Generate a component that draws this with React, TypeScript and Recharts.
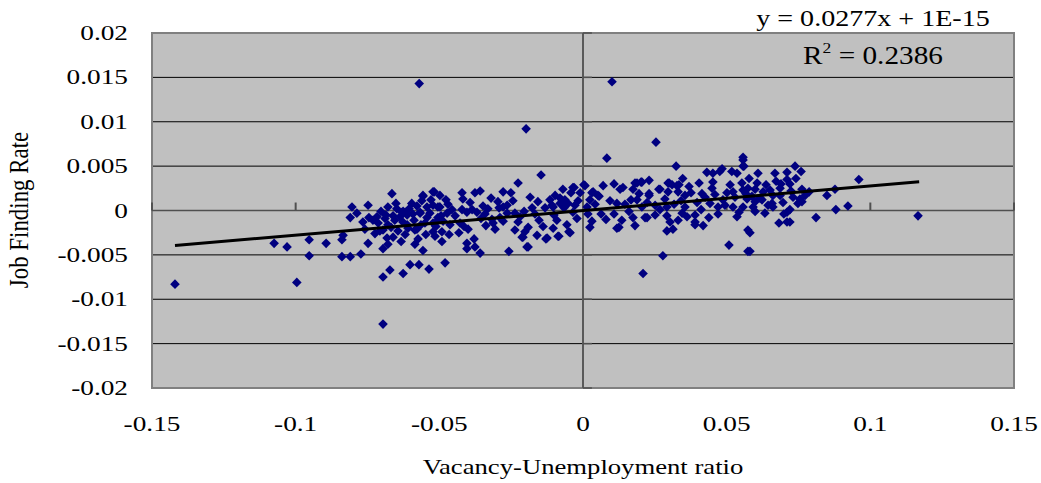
import { ScatterChart, Scatter, XAxis, YAxis, CartesianGrid, ReferenceLine, ReferenceArea } from 'recharts'

const xTicks = [-0.15, -0.1, -0.05, 0, 0.05, 0.1, 0.15]
const xLabels = ['-0.15', '-0.1', '-0.05', '0', '0.05', '0.1', '0.15']
const yTicks = [-0.02, -0.015, -0.01, -0.005, 0, 0.005, 0.01, 0.015, 0.02]
const yLabels = ['-0.02', '-0.015', '-0.01', '-0.005', '0', '0.005', '0.01', '0.015', '0.02']

// trendline as printed on the chart
const slope = 0.0277
const intercept = 1e-15
const fitFrom = -0.142
const fitTo = 0.117

// [vacancy-unemployment ratio, job finding rate]
const outliers: [number, number][] = [
  [-0.142, -0.0083], [-0.057, 0.0143], [-0.0198, 0.0092], [0.0101, 0.0145], [0.0083, 0.0059],
  [0.0254, 0.0077], [-0.0696, -0.0128], [-0.0996, -0.0081], [0.0209, -0.0071], [0.1166, -0.0006],
  [0.096, 0.0035], [-0.1075, -0.0037], [-0.103, -0.0041],
]

const leftCluster: [number, number][] = [
  [-0.0953, -0.0033], [-0.0953, -0.0051], [-0.0894, -0.0037], [-0.0839, -0.0052], [-0.081, -0.0052],
  [-0.0773, -0.0049], [-0.0839, -0.0033], [-0.0835, -0.0028], [-0.0804, 0.0004], [-0.0748, 0.0006],
  [-0.0787, -0.0003], [-0.081, -0.0008], [-0.0766, -0.0013], [-0.0748, -0.0037], [-0.0679, -0.0038],
  [-0.0696, -0.0043], [-0.0696, -0.0075], [-0.0672, -0.0067], [-0.0626, -0.0071], [-0.0602, -0.0061],
  [-0.0571, -0.0061], [-0.0536, -0.0066], [-0.0679, 0.0004], [-0.0717, -0.0007], [-0.0686, -0.0005],
  [-0.0661, -0.0006], [-0.063, -0.0002], [-0.0612, -0.0005], [-0.0592, -0.0004], [-0.0567, -0.0002],
  [-0.0543, 0.0004], [-0.0505, 0.0004], [-0.0707, -0.0023], [-0.0679, -0.0016], [-0.0661, -0.003],
  [-0.0644, -0.0023], [-0.0609, -0.002], [-0.0578, -0.0021], [-0.0574, -0.0032], [-0.0522, -0.0024],
  [-0.0522, -0.0014], [-0.0665, 0.0019], [-0.0557, 0.0016], [-0.0518, 0.0021], [-0.0713, -0.0014],
  [-0.0696, -0.0022], [-0.0626, -0.0001], [-0.0648, 0.0002], [-0.0596, 0.0008], [-0.0561, 0.0011],
  [-0.0533, -0.0003], [-0.0487, -0.0012], [-0.0463, -0.0016], [-0.0655, -0.0011], [-0.0627, -0.0013],
  [-0.0557, 0.0017], [-0.0522, 0.0021], [-0.0498, 0.0017], [-0.0619, -0.0002], [-0.0612, -0.0016],
  [-0.0585, -0.0022], [-0.0491, -0.0024], [-0.0491, -0.0035], [-0.0515, -0.0029], [-0.0543, -0.0008],
  [-0.0505, -0.0008], [-0.055, -0.0014], [-0.048, -0.0059], [-0.0522, 0.0006], [-0.0498, 0.0004],
  [-0.047, 0.0007], [-0.0473, -0.0003], [-0.0456, 0.0001], [-0.0445, -0.0006], [-0.0567, -0.0003],
  [-0.0731, -0.0011], [-0.0724, -0.0026], [-0.0703, -0.0001], [-0.0689, -0.0009], [-0.0668, -0.0019],
  [-0.0651, 0.0008], [-0.0637, -0.0007], [-0.0619, -0.0027], [-0.0605, 0.0002], [-0.0588, -0.0011],
  [-0.0578, 0.0005], [-0.0564, -0.0016], [-0.0547, -0.0027], [-0.0529, 0.0012], [-0.0512, -0.0018],
  [-0.0494, -0.0006], [-0.0477, 0.0012], [-0.0466, -0.0027], [-0.0585, -0.0038], [-0.0633, -0.0035],
  [-0.0759, -0.0021], [-0.0745, -0.0008], [-0.0682, -0.0031], [-0.0557, -0.0045], [-0.0508, -0.0012],
]

const centerCluster: [number, number][] = [
  [-0.0146, 0.004], [-0.0226, 0.0031], [-0.0421, 0.002], [-0.0418, 0.0013], [-0.0376, 0.002],
  [-0.0358, 0.0022], [-0.0278, 0.0021], [-0.0251, 0.002], [-0.032, 0.0014], [-0.0348, 0.0005],
  [-0.0296, 0.001], [-0.0292, 0.0003], [-0.0157, 0.001], [-0.0097, 0.0017], [-0.007, 0.0024],
  [-0.0035, 0.0026], [-0.0042, 0.002], [-0.0063, 0.0012], [-0.008, 0.0008], [-0.0108, 0.0006],
  [-0.0052, 0.0008], [-0.0035, -0.0002], [-0.0101, -0.0005], [-0.0132, 0.0003], [-0.0177, 0.0003],
  [-0.0205, -0.0001], [-0.0237, -0.0003], [-0.0264, -0.0003], [-0.0278, -0.0012], [-0.0226, -0.0013],
  [-0.0191, -0.0019], [-0.0202, -0.0024], [-0.0237, -0.0022], [-0.0209, -0.003], [-0.016, -0.0028],
  [-0.0125, -0.0031], [-0.0084, -0.0029], [-0.0045, -0.0025], [-0.0104, -0.002], [-0.0153, -0.0011],
  [-0.0191, -0.0041], [-0.0258, -0.0046], [-0.0358, -0.0048], [-0.0376, -0.0041], [-0.0404, -0.0043],
  [-0.0404, -0.0037], [-0.0379, -0.0032], [-0.0338, -0.0017], [-0.0313, -0.0014], [-0.04, -0.0021],
  [-0.0432, -0.0025], [-0.0428, -0.0014], [-0.0404, -0.0002], [-0.0386, 0.0001], [-0.0421, 0.0001],
  [-0.0369, -0.0002], [-0.0341, -0.0004], [-0.0317, -0.001], [-0.0289, -0.0008], [-0.0278, 0.0004],
  [-0.0264, 0.0006], [-0.0104, 0.0004], [-0.008, 0.0014], [-0.0028, 0.0006], [-0.0414, -0.0018],
  [-0.0212, -0.003], [-0.0195, -0.0041], [-0.0129, -0.0032], [-0.0087, -0.0029], [-0.0049, -0.0024],
  [0.0007, 0.0028], [0.0003, 0.0029], [-0.0031, 0.0026], [-0.001, 0.002], [0.0024, 0.0012],
  [0.0035, 0.0021], [0.0056, 0.0016], [0.0014, 0.0004], [0.0017, -0.0004], [0.0031, -0.0012],
  [0.0024, -0.0019], [0.008, -0.001], [0.0108, -0.0004], [0.0118, 0.0008], [0.0146, 0.0007],
  [0.0167, 0.0012], [0.0188, 0.0012], [0.016, -0.0001], [0.0174, -0.0008], [0.0181, -0.0017],
  [0.0118, -0.002], [0.0125, -0.0019], [0.0031, 0.002], [0.0052, 0.0017], [0.007, 0.0028],
  [0.0108, 0.003], [0.0129, 0.0024], [0.0174, 0.0024], [0.0188, 0.0031], [0.0205, 0.0032],
  [0.0139, 0.0026], [0.0181, 0.0031], [0.0202, 0.0032], [0.023, 0.0034], [0.023, 0.0017],
  [0.023, 0.0019], [0.0223, 0.0009], [0.0205, 0.0004], [0.0216, -0.0008], [0.0223, -0.0008],
  [-0.0393, 0.0009], [-0.0355, -0.0009], [-0.0331, 0.0002], [-0.0306, -0.0021], [-0.0244, 0.0011],
  [-0.0219, -0.0007], [-0.0184, 0.0015], [-0.0167, -0.0004], [-0.0139, -0.0018], [-0.0115, 0.0012],
  [-0.0091, -0.0011], [-0.0066, 0.0003], [-0.0056, -0.0016], [-0.0017, 0.0011], [-0.0021, -0.0009],
  [0.0042, 0.0007], [0.0063, -0.0004], [0.0094, 0.0011], [0.0135, -0.0011], [0.0195, 0.0019],
]

const rightCluster: [number, number][] = [
  [0.0324, 0.005], [0.03, 0.0031], [0.0334, 0.0029], [0.0431, 0.0043], [0.0452, 0.0042],
  [0.0484, 0.0047], [0.0518, 0.0044], [0.0268, 0.0024], [0.0476, 0.0044], [0.0536, 0.0042],
  [0.0557, 0.005], [0.0557, 0.0057], [0.0264, 0.0024], [0.0296, 0.0031], [0.031, 0.0029],
  [0.0327, 0.0028], [0.0331, 0.0021], [0.0296, 0.0021], [0.0355, 0.0017], [0.0376, 0.002],
  [0.0414, 0.0019], [0.0449, 0.0025], [0.0452, 0.0032], [0.0501, 0.002], [0.0522, 0.0021],
  [0.0557, 0.0023], [0.0553, 0.0031], [0.0251, -0.0005], [0.0268, 0.0001], [0.0251, 0.0006],
  [0.0292, 0.0004], [0.0292, -0.0006], [0.0303, -0.0013], [0.0292, -0.0023], [0.0313, -0.0021],
  [0.0331, -0.0011], [0.0345, -0.0003], [0.0355, 0.0004], [0.0362, -0.0007], [0.039, -0.0013],
  [0.039, -0.0005], [0.0411, 0.0001], [0.0418, -0.0017], [0.0442, 0.0008], [0.047, 0.0004],
  [0.047, -0.0004], [0.0494, 0.0006], [0.0522, 0.0004], [0.0536, -0.0007], [0.0557, 0.0004],
  [0.0574, -0.0022], [0.0508, -0.0039], [0.0574, -0.0046], [0.0278, -0.0051], [0.039, -0.0016],
  [0.0557, 0.006], [0.056, 0.005], [0.0738, 0.005], [0.0759, 0.0044], [0.0609, 0.0042],
  [0.0668, 0.0042], [0.071, 0.0043], [0.0578, 0.0036], [0.071, 0.0035], [0.0637, 0.0029],
  [0.0689, 0.003], [0.072, 0.003], [0.0574, 0.0025], [0.0599, 0.0024], [0.0651, 0.0023],
  [0.0686, 0.0025], [0.0762, 0.0024], [0.0588, 0.0016], [0.0616, 0.0014], [0.0661, 0.0017],
  [0.0686, 0.0017], [0.0731, 0.0015], [0.0773, 0.0017], [0.0877, 0.0024], [0.0849, 0.0017],
  [0.0571, 0.0013], [0.0599, 0.001], [0.0623, 0.0012], [0.0658, 0.0008], [0.0661, 0.0004],
  [0.0762, 0.001], [0.0748, 0.0008], [0.0592, 0.0004], [0.0599, -0.0001], [0.0633, -0.0003],
  [0.071, -0.0002], [0.072, 0.0001], [0.0699, -0.0004], [0.0811, -0.0008], [0.088, 0.0001],
  [0.0922, 0.0005], [0.0682, -0.0014], [0.071, -0.0013], [0.072, -0.0013], [0.0581, -0.0025],
  [0.0581, -0.0046], [0.0285, 0.0013], [0.0317, 0.0007], [0.0341, 0.0011], [0.0369, 0.0027],
  [0.0397, 0.0009], [0.0425, 0.0015], [0.0438, -0.0008], [0.0459, 0.0018], [0.0487, 0.0012],
  [0.0512, 0.0029], [0.0529, 0.0015], [0.0543, -0.0002], [0.0567, 0.0019], [0.0606, 0.0031],
  [0.0627, 0.0021], [0.0644, 0.0006], [0.0672, 0.0033], [0.0696, 0.0009], [0.0724, 0.0022],
  [0.0741, 0.0036], [0.0755, 0.0013], [0.0787, 0.0021], [0.0347, 0.0036], [0.0404, 0.0031],
]

const points = [...outliers, ...leftCluster, ...centerCluster, ...rightCluster].map(([x, y]) => ({ x, y }))
const trend = [fitFrom, fitTo].map(x => ({ x, y: slope * x + intercept }))

const serif = '"Liberation Serif", "Times New Roman", serif'

const Diamond = (props: any) => {
  const { cx, cy } = props
  const r = 4.8
  return <path d={`M${cx},${cy - r}L${cx + r},${cy}L${cx},${cy + r}L${cx - r},${cy}Z`} fill="#000080" />
}

const XTick = ({ x, y, payload }: any) => (
  <text transform={`translate(${x},${y + 43}) scale(1.3,1)`} textAnchor="middle" fontFamily={serif} fontSize={21} fill="#000">
    {xLabels[xTicks.indexOf(payload.value)]}
  </text>
)

const YTick = ({ x, y, payload }: any) => (
  <text transform={`translate(${x - 24},${y + 7}) scale(1.3,1)`} textAnchor="end" fontFamily={serif} fontSize={21} fill="#000">
    {yLabels[yTicks.indexOf(payload.value)]}
  </text>
)

export default function App() {
  return (
    <div style={{ position: 'absolute', left: 0, top: 0, width: 1041, height: 483, background: '#fff' }}>
      <ScatterChart width={1041} height={483} margin={{ top: 33, right: 27, bottom: 35, left: 0 }}>
        <CartesianGrid vertical={false} stroke="#000" fill="#c0c0c0" />
        <XAxis
          type="number"
          dataKey="x"
          domain={[-0.15, 0.15]}
          ticks={xTicks}
          axisLine={false}
          tickLine={false}
          tickSize={0}
          tickMargin={0}
          height={60}
          tick={<XTick />}
          allowDataOverflow
        />
        <YAxis
          type="number"
          dataKey="y"
          domain={[-0.02, 0.02]}
          ticks={yTicks}
          axisLine={false}
          tickLine={false}
          tickSize={0}
          tickMargin={0}
          width={152}
          tick={<YTick />}
          allowDataOverflow
        />
        <ReferenceLine y={0} stroke="#505050" strokeWidth={1.5} />
        <ReferenceLine x={0} stroke="#5a5a5a" strokeWidth={2} />
        {xTicks.filter(t => t !== 0).map(t => (
          <ReferenceLine key={'xt' + t} segment={[{ x: t, y: 0 }, { x: t, y: 0.0009 }]} stroke="#505050" strokeWidth={2} />
        ))}
        {yTicks.map(t => (
          <ReferenceLine key={'yt' + t} segment={[{ x: 0, y: t }, { x: 0.0031, y: t }]} stroke="#505050" strokeWidth={1.5} />
        ))}
        <ReferenceArea x1={-0.15} x2={0.15} y1={-0.02} y2={0.02} fill="none" fillOpacity={0} stroke="#808080" strokeWidth={2} />
        <Scatter data={points} shape={<Diamond />} isAnimationActive={false} />
        <Scatter data={trend} line={{ stroke: '#000', strokeWidth: 3 }} shape={() => <g />} isAnimationActive={false} />
      </ScatterChart>
      <svg width={1041} height={483} style={{ position: 'absolute', left: 0, top: 0, pointerEvents: 'none' }}>
        <text transform="translate(873,26) scale(1.17,1)" textAnchor="middle" fontFamily={serif} fontSize={24} fill="#000">
          y = 0.0277x + 1E-15
        </text>
        <text transform="translate(873,64) scale(1.17,1)" textAnchor="middle" fontFamily={serif} fontSize={25} fill="#000">
          R<tspan fontSize={15} dy={-11}>2</tspan><tspan dy={11}> = 0.2386</tspan>
        </text>
        <text transform="translate(583,474) scale(1.27,1)" textAnchor="middle" fontFamily={serif} fontSize={21} fill="#000">
          Vacancy-Unemployment ratio
        </text>
        <text transform="translate(28,210) rotate(-90) scale(1.09,1.3)" textAnchor="middle" fontFamily={serif} fontSize={21} fill="#000">
          Job Finding Rate
        </text>
      </svg>
    </div>
  )
}
